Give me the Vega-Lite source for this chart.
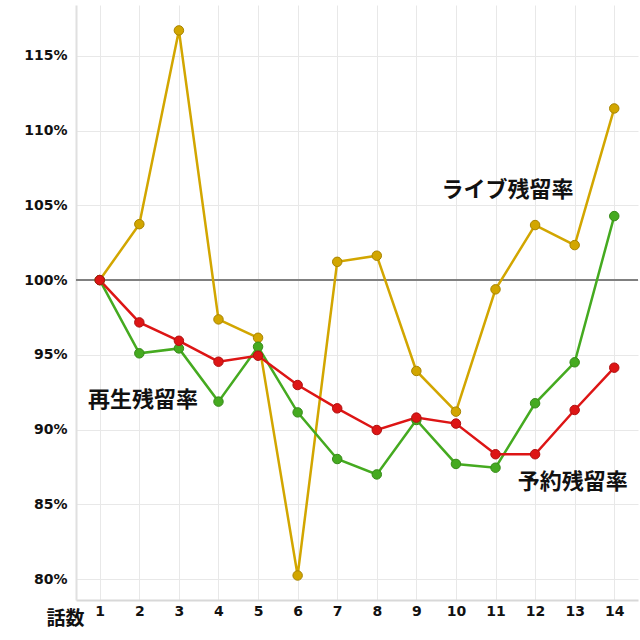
{
  "$schema": "https://vega.github.io/schema/vega-lite/v6.json",
  "width": 562,
  "height": 595,
  "autosize": "none",
  "padding": {"left": 76, "top": 5, "right": 2, "bottom": 40},
  "background": "white",
  "config": {
    "view": {"stroke": null},
    "font": "DejaVu Sans"
  },
  "datasets": {
    "series": [
      {"ep": 1, "s": "ライブ残留率", "v": 100},
      {"ep": 2, "s": "ライブ残留率", "v": 103.74},
      {"ep": 3, "s": "ライブ残留率", "v": 116.7},
      {"ep": 4, "s": "ライブ残留率", "v": 97.37},
      {"ep": 5, "s": "ライブ残留率", "v": 96.14},
      {"ep": 6, "s": "ライブ残留率", "v": 80.24},
      {"ep": 7, "s": "ライブ残留率", "v": 101.22},
      {"ep": 8, "s": "ライブ残留率", "v": 101.63},
      {"ep": 9, "s": "ライブ残留率", "v": 93.92},
      {"ep": 10, "s": "ライブ残留率", "v": 91.2},
      {"ep": 11, "s": "ライブ残留率", "v": 99.38},
      {"ep": 12, "s": "ライブ残留率", "v": 103.68},
      {"ep": 13, "s": "ライブ残留率", "v": 102.34},
      {"ep": 14, "s": "ライブ残留率", "v": 111.48},
      {"ep": 1, "s": "再生残留率", "v": 100},
      {"ep": 2, "s": "再生残留率", "v": 95.1},
      {"ep": 3, "s": "再生残留率", "v": 95.43},
      {"ep": 4, "s": "再生残留率", "v": 91.87},
      {"ep": 5, "s": "再生残留率", "v": 95.54},
      {"ep": 6, "s": "再生残留率", "v": 91.15},
      {"ep": 7, "s": "再生残留率", "v": 88.03},
      {"ep": 8, "s": "再生残留率", "v": 87.0},
      {"ep": 9, "s": "再生残留率", "v": 90.64},
      {"ep": 10, "s": "再生残留率", "v": 87.7},
      {"ep": 11, "s": "再生残留率", "v": 87.45},
      {"ep": 12, "s": "再生残留率", "v": 91.76},
      {"ep": 13, "s": "再生残留率", "v": 94.5},
      {"ep": 14, "s": "再生残留率", "v": 104.28},
      {"ep": 1, "s": "予約残留率", "v": 100},
      {"ep": 2, "s": "予約残留率", "v": 97.17},
      {"ep": 3, "s": "予約残留率", "v": 95.94},
      {"ep": 4, "s": "予約残留率", "v": 94.54},
      {"ep": 5, "s": "予約残留率", "v": 94.94},
      {"ep": 6, "s": "予約残留率", "v": 92.98},
      {"ep": 7, "s": "予約残留率", "v": 91.42},
      {"ep": 8, "s": "予約残留率", "v": 89.97},
      {"ep": 9, "s": "予約残留率", "v": 90.8},
      {"ep": 10, "s": "予約残留率", "v": 90.4},
      {"ep": 11, "s": "予約残留率", "v": 88.35},
      {"ep": 12, "s": "予約残留率", "v": 88.35},
      {"ep": 13, "s": "予約残留率", "v": 91.31},
      {"ep": 14, "s": "予約残留率", "v": 94.14}
    ],
    "labels": [
      {"ep": 11.3, "v": 106.0, "t": "ライブ残留率"},
      {"ep": 2.09, "v": 92.0, "t": "再生残留率"},
      {"ep": 12.95, "v": 86.5, "t": "予約残留率"}
    ],
    "ref": [{"v": 100}]
  },
  "layer": [
    {
      "data": {"name": "ref"},
      "mark": {"type": "rule", "color": "#808080", "strokeWidth": 2},
      "encoding": {
        "y": {"field": "v", "type": "quantitative", "scale": {"domain": [78.6, 118.4], "nice": false, "zero": false},
          "axis": {
            "values": [80, 85, 90, 95, 100, 105, 110, 115],
            "labelExpr": "datum.value + '%'",
            "title": null,
            "labelFont": "DejaVu Sans",
            "labelFontWeight": "bold",
            "labelFontSize": 14,
            "labelColor": "#111111",
            "labelPadding": 9,
            "ticks": false,
            "grid": true,
            "gridColor": "#e8e8e8",
            "gridWidth": 1,
            "domainColor": "#e0e0e0",
            "domainWidth": 2
          }
        }
      }
    },
    {
      "data": {"name": "series"},
      "mark": {"type": "line", "strokeWidth": 2.5},
      "encoding": {
        "x": {"field": "ep", "type": "quantitative", "scale": {"domain": [0.4, 14.6], "nice": false, "zero": false},
          "axis": {
            "values": [1, 2, 3, 4, 5, 6, 7, 8, 9, 10, 11, 12, 13, 14],
            "title": "話数",
            "titleFont": "Noto Sans CJK JP",
            "titleFontWeight": "bold",
            "titleFontSize": 19,
            "titleColor": "#111111",
            "titleX": -11,
            "titleY": 18,
            "titleAlign": "center",
            "titleBaseline": "middle",
            "labelFont": "DejaVu Sans",
            "labelFontWeight": "bold",
            "labelFontSize": 14,
            "labelColor": "#111111",
            "labelPadding": 4,
            "ticks": false,
            "grid": true,
            "gridColor": "#e8e8e8",
            "gridWidth": 1,
            "domainColor": "#d8d8d8",
            "domainWidth": 2
          }
        },
        "y": {"field": "v", "type": "quantitative"},
        "color": {"field": "s", "type": "nominal", "legend": null,
          "scale": {"domain": ["ライブ残留率", "再生残留率", "予約残留率"], "range": ["#d2a600", "#45aa20", "#dd1515"]}}
      }
    },
    {
      "data": {"name": "series"},
      "mark": {"type": "point", "filled": true, "size": 90, "opacity": 1, "strokeWidth": 1},
      "encoding": {
        "x": {"field": "ep", "type": "quantitative"},
        "y": {"field": "v", "type": "quantitative"},
        "fill": {"field": "s", "type": "nominal", "legend": null,
          "scale": {"domain": ["ライブ残留率", "再生残留率", "予約残留率"], "range": ["#d2a600", "#45aa20", "#dd1515"]}},
        "stroke": {"field": "s", "type": "nominal", "legend": null,
          "scale": {"domain": ["ライブ残留率", "再生残留率", "予約残留率"], "range": ["#a88400", "#368a18", "#b01010"]}}
      }
    },
    {
      "data": {"name": "labels"},
      "mark": {"type": "text", "font": "Noto Sans CJK JP", "fontWeight": "bold", "fontSize": 22, "color": "#111111", "align": "center", "baseline": "middle"},
      "encoding": {
        "x": {"field": "ep", "type": "quantitative"},
        "y": {"field": "v", "type": "quantitative"},
        "text": {"field": "t"}
      }
    }
  ]
}
